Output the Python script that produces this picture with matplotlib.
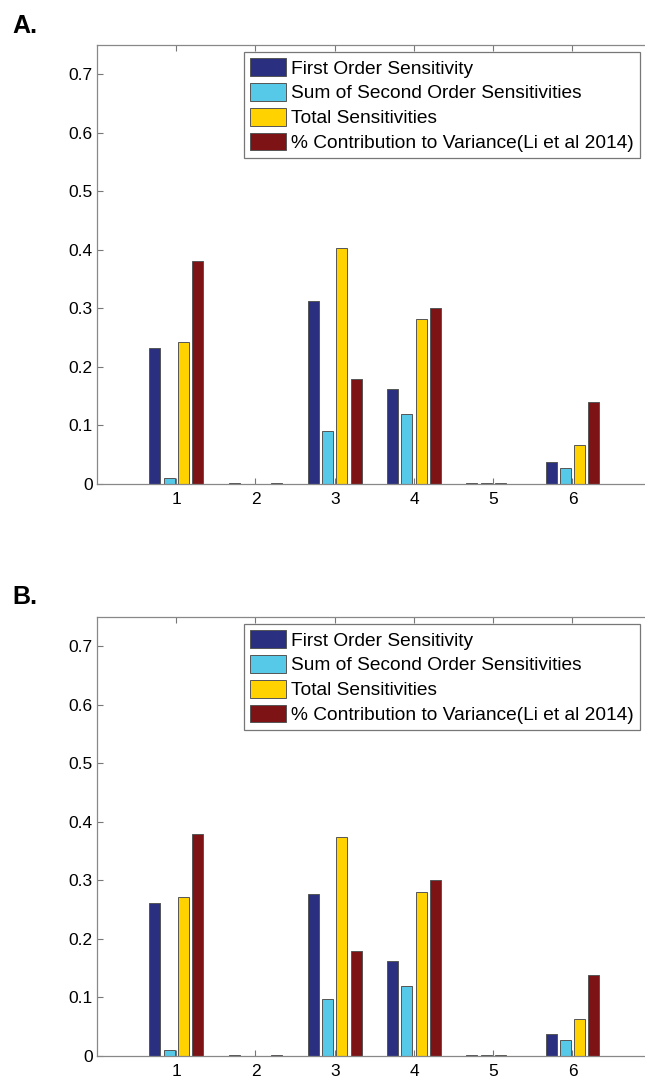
import numpy as np
import matplotlib
matplotlib.use("Agg")
import matplotlib.pyplot as plt

plt.rcParams['font.family'] = ['Liberation Sans', 'DejaVu Sans']

# -------- data --------
groups = [1, 2, 3, 4, 5, 6]
series_names = ['First Order Sensitivity',
                'Sum of Second Order Sensitivities',
                'Total Sensitivities',
                '% Contribution to Variance(Li et al 2014)']
colors = ['#2B2F80', '#56C8E8', '#FFD200', '#7D1315']

# panel A
a_first = [0.232, 0.001, 0.313, 0.162, 0.001, 0.038]
a_second = [0.010, 0.0, 0.091, 0.120, 0.001, 0.028]
a_total = [0.243, 0.0, 0.403, 0.282, 0.001, 0.066]
a_li = [0.381, 0.001, 0.180, 0.300, 0.0, 0.140]

# panel B
b_first = [0.261, 0.001, 0.277, 0.163, 0.001, 0.037]
b_second = [0.011, 0.0, 0.098, 0.119, 0.001, 0.028]
b_total = [0.272, 0.0, 0.374, 0.281, 0.001, 0.064]
b_li = [0.380, 0.001, 0.180, 0.300, 0.0, 0.139]

yticks = [0, 0.1, 0.2, 0.3, 0.4, 0.5, 0.6, 0.7]
ytick_labels = ['0', '0.1', '0.2', '0.3', '0.4', '0.5', '0.6', '0.7']


def draw_panel(ax, data):
    x = np.array(groups)
    step = 0.18
    width = 0.14
    for i, vals in enumerate(data):
        off = (i - 1.5) * step
        ax.bar(x + off, vals, width, color=colors[i], edgecolor='#555555',
               linewidth=0.7, label=series_names[i])
    ax.set_xlim(0, 7)
    ax.set_ylim(0, 0.75)
    ax.set_xticks(groups)
    ax.set_yticks(yticks)
    ax.set_yticklabels(ytick_labels)
    ax.tick_params(direction='in', top=True, right=True, length=4,
                   color='#777777', labelsize=12.5)
    ax.tick_params(axis='x', pad=6)
    ax.tick_params(axis='y', pad=3)
    for sp in ax.spines.values():
        sp.set_color('#888888')
        sp.set_linewidth(0.9)
    leg = ax.legend(loc='upper left', bbox_to_anchor=(0.265, 0.984),
                    fontsize=13.8, frameon=True, fancybox=False,
                    edgecolor='#555555', borderaxespad=0, borderpad=0.32,
                    handlelength=1.88, handleheight=1.05, labelspacing=0.28,
                    handletextpad=0.27)
    leg.get_frame().set_linewidth(0.9)


fig = plt.figure(figsize=(6.45, 10.78), dpi=100)
axA = fig.add_axes([0.1504, 0.551, 0.860, 0.4072])
axB = fig.add_axes([0.1504, 0.0204, 0.860, 0.4072])

draw_panel(axA, [a_first, a_second, a_total, a_li])
draw_panel(axB, [b_first, b_second, b_total, b_li])

fig.text(0.019, 0.987, 'A.', fontsize=18, fontweight='bold', va='top', ha='left')
fig.text(0.019, 0.457, 'B.', fontsize=18, fontweight='bold', va='top', ha='left')

fig.savefig('out.png', dpi=100)
